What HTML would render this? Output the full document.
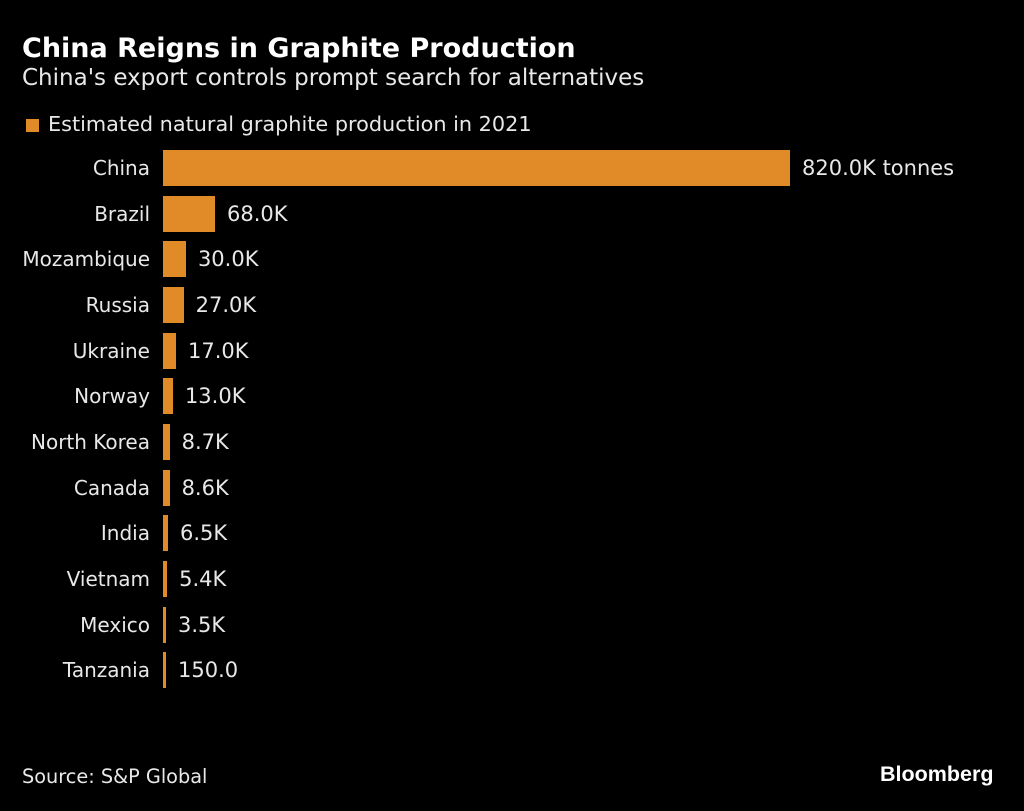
<!DOCTYPE html>
<html><head><style>
body{margin:0;background:#000;width:1024px;height:811px;overflow:hidden;font-family:"DejaVu Sans","Liberation Sans",sans-serif;color:#e8e8e8;position:relative}
.a{position:absolute;white-space:nowrap}
.bar{position:absolute;left:163px;height:36px;background:#e08a28}
.lab{position:absolute;right:874px;font-size:20px;line-height:36px;text-align:right}
.val{position:absolute;font-size:21px;line-height:36px}
</style></head><body>
<div class="a" style="left:22px;top:33px;font-size:27px;font-weight:bold;color:#fff">China Reigns in Graphite Production</div>
<div class="a" style="left:22px;top:65px;font-size:23px">China's export controls prompt search for alternatives</div>
<div class="a" style="left:26px;top:119px;width:13px;height:13px;background:#e08a28"></div>
<div class="a" style="left:48px;top:112px;font-size:20.8px">Estimated natural graphite production in 2021</div>
<div id="c"></div>
<div class="a" style="left:22px;top:765px;font-size:19.3px">Source: S&amp;P Global</div>
<div class="a" style="left:880px;top:762px;font-size:21.5px;font-weight:bold;color:#fff;font-family:'Liberation Sans',sans-serif">Bloomberg</div>
<script>
var d=[["China",820000,"820.0K tonnes"],["Brazil",68000,"68.0K"],["Mozambique",30000,"30.0K"],["Russia",27000,"27.0K"],["Ukraine",17000,"17.0K"],["Norway",13000,"13.0K"],["North Korea",8700,"8.7K"],["Canada",8600,"8.6K"],["India",6500,"6.5K"],["Vietnam",5400,"5.4K"],["Mexico",3500,"3.5K"],["Tanzania",150,"150.0"]];
var h="";d.forEach(function(r,i){var t=150+i*45.65;var w=Math.max(3,r[1]/820000*627);
h+='<div class="bar" style="top:'+t+'px;width:'+w+'px"></div><div class="lab" style="top:'+t+'px">'+r[0]+'</div><div class="val" style="top:'+t+'px;left:'+(163+w+12)+'px">'+r[2]+'</div>';});
document.getElementById("c").innerHTML=h;
</script>
</body></html>
